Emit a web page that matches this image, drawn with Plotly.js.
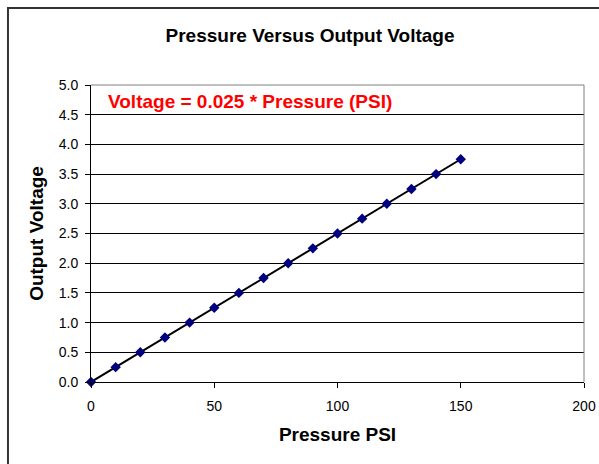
<!DOCTYPE html>
<html>
<head>
<meta charset="utf-8">
<script src="https://cdn.plot.ly/plotly-3.0.1.min.js"></script>
<style>html,body{margin:0;padding:0;background:#fff;}#chart{width:599px;height:464px;}</style>
</head>
<body>
<div id="chart"></div>
<script>
const pressure = [0, 10, 20, 30, 40, 50, 60, 70, 80, 90, 100, 110, 120, 130, 140, 150];
const voltage = [0, 0.25, 0.5, 0.75, 1.0, 1.25, 1.5, 1.75, 2.0, 2.25, 2.5, 2.75, 3.0, 3.25, 3.5, 3.75];
const xTicks = [0, 50, 100, 150, 200];
const yTicks = [0, 0.5, 1.0, 1.5, 2.0, 2.5, 3.0, 3.5, 4.0, 4.5, 5.0];
const chartTitle = "Pressure Versus Output Voltage";
const xTitle = "Pressure PSI";
const yTitle = "Output Voltage";
const equationText = "Voltage = 0.025 * Pressure (PSI)";

const FONT = "Liberation Sans, Arial, sans-serif";

const trace = {
  x: pressure,
  y: voltage,
  type: "scatter",
  mode: "lines+markers",
  line: {color: "#000000", width: 2},
  marker: {symbol: "diamond", size: 8, color: "#000080", line: {width: 0}},
  cliponaxis: false,
  showlegend: false,
  hoverinfo: "x+y"
};

const layout = {
  width: 599,
  height: 464,
  margin: {l: 91, r: 15, t: 85, b: 82, pad: 0},
  paper_bgcolor: "#ffffff",
  plot_bgcolor: "#ffffff",
  font: {family: FONT, size: 14, color: "#000000"},
  title: {
    text: "<b>" + chartTitle + "</b>",
    font: {family: FONT, size: 19, color: "#000000"},
    x: 310 / 599, xref: "container", xanchor: "center",
    y: 1 - 35 / 464, yref: "container", yanchor: "middle"
  },
  xaxis: {
    range: [0, 200],
    tickvals: xTicks,
    ticktext: xTicks.map(String),
    showgrid: false,
    zeroline: false,
    showline: true,
    linecolor: "#000000",
    linewidth: 1,
    ticks: "outside",
    ticklen: 5,
    tickcolor: "#000000",
    ticklabelstandoff: 6,
    tickfont: {family: FONT, size: 14, color: "#000000"},
    fixedrange: true,
    title: {text: "<b>" + xTitle + "</b>", font: {family: FONT, size: 19, color: "#000000"}, standoff: 14}
  },
  yaxis: {
    range: [0, 5],
    tickvals: yTicks,
    ticktext: yTicks.map(v => v.toFixed(1)),
    showgrid: true,
    gridcolor: "#000000",
    gridwidth: 1,
    zeroline: false,
    showline: true,
    linecolor: "#000000",
    linewidth: 1,
    ticks: "outside",
    ticklen: 5,
    tickcolor: "#000000",
    ticklabelstandoff: 4,
    tickfont: {family: FONT, size: 14, color: "#000000"},
    fixedrange: true,
    title: {text: "<b>" + yTitle + "</b>", font: {family: FONT, size: 19, color: "#000000"}, standoff: 10}
  },
  shapes: [
    {type: "line", xref: "paper", yref: "paper", x0: 0, x1: 1, y0: 1, y1: 1, line: {color: "#808080", width: 1}, layer: "above"},
    {type: "line", xref: "paper", yref: "paper", x0: 1, x1: 1, y0: 0, y1: 1, line: {color: "#808080", width: 1}, layer: "above"},
    {type: "rect", xref: "paper", yref: "paper", x0: -0.1684, x1: 1.05, y0: -0.5, y1: 1.2593, line: {color: "#333333", width: 2}, fillcolor: "rgba(0,0,0,0)", layer: "below"}
  ],
  annotations: [
    {text: "<b>" + equationText + "</b>", xref: "paper", yref: "paper", x: 0.031, y: 0.943, xanchor: "left", yanchor: "middle", showarrow: false, font: {family: FONT, size: 19, color: "#ff0000"}}
  ]
};

Plotly.newPlot("chart", [trace], layout, {displayModeBar: false, staticPlot: true});
</script>
</body>
</html>
